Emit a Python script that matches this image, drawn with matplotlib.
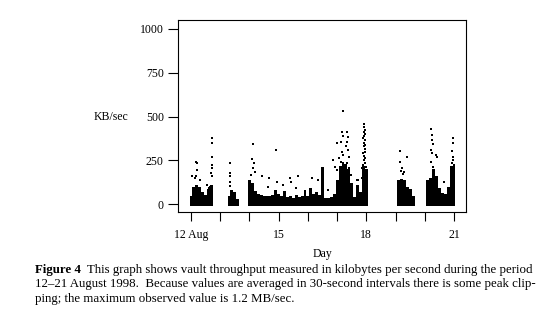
import numpy as np
import matplotlib
matplotlib.use("Agg")
import matplotlib.pyplot as plt

plt.rcParams['font.family'] = ['Liberation Serif', 'DejaVu Serif']

# ---- data ----
# dense band of 30-second averages (top of the solid mass, KB/sec), per 0.1 day
dense_day = [12.0, 12.1, 12.2, 12.3, 12.4, 12.5, 12.6, 12.7,
             13.3, 13.4, 13.5, 13.6,
             14.0, 14.1, 14.2, 14.3, 14.4, 14.5, 14.6, 14.7, 14.8, 14.9,
             15.0, 15.1, 15.2, 15.3, 15.4, 15.5, 15.6, 15.7, 15.8, 15.9,
             16.0, 16.1, 16.2, 16.3, 16.4, 16.5, 16.6, 16.7, 16.8, 16.9,
             17.0, 17.1, 17.2, 17.3, 17.4, 17.5, 17.6, 17.7, 17.8, 17.9, 18.0,
             19.1, 19.2, 19.3, 19.4, 19.5, 19.6,
             20.1, 20.2, 20.3, 20.4, 20.5, 20.6, 20.7, 20.8, 20.9, 21.0]
dense_top = [50, 100, 110, 100, 70, 55, 90, 110,
             45, 80, 70, 30,
             140, 120, 75, 60, 55, 45, 50, 45, 55, 80,
             60, 45, 75, 40, 45, 35, 55, 40, 45, 80,
             50, 95, 60, 70, 55, 215, 35, 35, 40, 60,
             140, 220, 240, 230, 200, 120, 40, 110, 70, 220, 200,
             139, 145, 140, 100, 90, 45,
             139, 150, 200, 160, 91, 65, 60, 100, 220, 230]

# isolated 30-second averages above the dense band
pts_day = [12.17, 12.19, 12.21, 12.17, 12.05, 12.31, 12.12, 12.71, 12.71, 12.71,
           12.71, 12.71, 12.70, 12.71, 12.66, 12.55, 12.60,
           13.35, 13.35, 13.34, 13.35, 13.35,
           14.11, 14.08, 14.16, 14.11, 14.18, 14.05, 14.42, 14.68, 14.91, 14.93,
           14.65, 15.16, 15.39, 15.41, 15.67, 15.60, 16.13, 16.36, 16.70,
           17.20, 17.16, 17.19, 17.35, 17.38, 16.99, 17.12, 17.33, 17.30, 17.16,
           17.21, 17.36, 17.39, 16.87, 17.08, 16.93, 17.12, 17.33, 17.01, 17.42,
           17.47, 17.69, 17.69,
           17.93, 17.92, 17.95, 17.92, 17.96, 17.93, 17.90, 17.95, 17.92, 17.97,
           17.91, 17.94, 17.96, 17.90, 17.93, 17.97, 17.91, 17.95, 17.88, 17.98,
           17.85, 17.84, 17.72,
           19.15, 19.15, 19.38, 19.23, 19.30, 19.19, 19.27,
           20.21, 20.26, 20.24, 20.29, 20.21, 20.26, 20.37, 20.43, 20.21, 20.29,
           20.67, 20.98, 20.98, 20.92, 20.96, 20.98, 20.92]
pts_kb = [243, 235, 195, 160, 162, 139, 150, 376, 352, 272,
          225, 205, 180, 160, 100, 108, 95,
          237, 180, 160, 128, 105,
          342, 257, 238, 205, 186, 167, 163, 148, 310, 125,
          100, 110, 150, 129, 162, 91, 148, 139, 82,
          532, 410, 390, 410, 386, 348, 357, 357, 330, 300,
          281, 310, 272, 253, 262, 215, 243, 234, 196, 205,
          167, 139, 91,
          458, 440, 425, 410, 400, 390, 380, 365, 350, 340,
          330, 315, 300, 290, 275, 262, 250, 238, 225, 215,
          205, 150, 140,
          306, 243, 268, 205, 186, 192, 173,
          430, 395, 367, 344, 310, 291, 281, 268, 243, 215,
          129, 376, 352, 306, 272, 253, 234]

y_ticks = [0, 250, 500, 750, 1000]
x_ticks_major = [12, 15, 18, 21]
x_tick_labels = ['12 Aug', '15', '18', '21']
x_ticks_minor = [13, 14, 16, 17, 19, 20]

caption_bold = 'Figure 4'
caption_line1 = 'This graph shows vault throughput measured in kilobytes per second during the period'
caption_line2 = '12\u201321 August 1998.  Because values are averaged in 30-second intervals there is some peak clip-'
caption_line3 = 'ping; the maximum observed value is 1.2 MB/sec.'

# ---- figure ----
W, H = 559, 326
fig = plt.figure(figsize=(W / 100, H / 100), dpi=100)
ax = fig.add_axes([178.3 / W, 1 - 211.7 / H, (466 - 178.3) / W, (211.7 - 20) / H])

base = -8
ax.bar(dense_day, np.array(dense_top) - base, bottom=base, width=0.1,
       color='black', linewidth=0)
ax.scatter(pts_day, pts_kb, s=3.8, marker='s', color='black', linewidths=0)

ax.set_xlim(11.565, 21.41)
ax.set_ylim(-42, 1051)

ax.set_yticks(y_ticks)
ax.set_yticklabels([str(v) for v in y_ticks])
ax.set_xticks(x_ticks_major)
ax.set_xticklabels(x_tick_labels)
ax.set_xticks(x_ticks_minor, minor=True)

ax.tick_params(axis='y', direction='out', length=7.2, width=0.8, pad=3.2, labelsize=8.5)
ax.tick_params(axis='x', which='both', direction='out', length=6.8, width=0.8, pad=5.5,
               labelsize=8.5)
for s in ax.spines.values():
    s.set_linewidth(0.8)

ax.set_xlabel('Day', fontsize=8.5, labelpad=5)
ax.set_ylabel('KB/sec', fontsize=8.5, rotation=0, ha='center', va='center')
ax.yaxis.set_label_coords(-0.234, (500 + 42) / 1093)

# caption
fs = 9.3
tb = fig.text(35 / W, 1 - 270 / H, caption_bold, fontsize=fs, fontweight='bold',
              va='center', ha='left')
fig.canvas.draw()
bb = tb.get_window_extent()
fig.text((bb.x1 + 6) / W, 1 - 270 / H, caption_line1, fontsize=fs, va='center', ha='left')
fig.text(35 / W, 1 - 284.5 / H, caption_line2, fontsize=fs, va='center', ha='left')
fig.text(35 / W, 1 - 299 / H, caption_line3, fontsize=fs, va='center', ha='left')

fig.savefig('out.png', dpi=100)
